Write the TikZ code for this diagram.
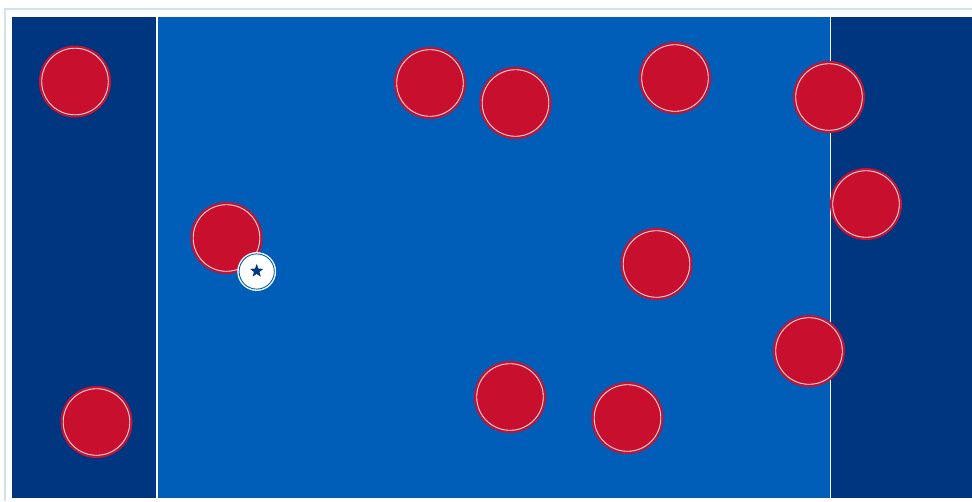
\documentclass[tikz,border=0pt]{standalone}
\usetikzlibrary{shapes.geometric}
\definecolor{frameline}{RGB}{212,225,240}
\definecolor{darkband}{RGB}{0,53,128}
\definecolor{court}{RGB}{0,94,184}
\definecolor{playerred}{RGB}{200,16,46}
\definecolor{playeredge}{RGB}{196,18,52}
\tikzset{
  player/.style={circle, inner sep=0pt, minimum size=70pt, fill=playerred, draw=playeredge, line width=2pt},
  ring/.style={draw=white, opacity=0.85, line width=0.9pt},
  ballnode/.style={circle, inner sep=0pt, minimum size=38pt, fill=white, draw=white, line width=0.8pt},
  ballring/.style={draw=court, line width=0.9pt},
  starmark/.style={star, star points=5, star point ratio=2.4, inner sep=0pt, minimum size=14pt, fill=darkband, draw=none},
  courtline/.style={draw=white, line width=1.6pt}
}
\begin{document}
\begin{tikzpicture}[x=1pt,y=-1pt]
\useasboundingbox (0,0) rectangle (972,501);
\fill[white] (0,0) rectangle (972,501);
% outer frame
\draw[frameline, line width=2pt] (5,501) -- (5,9) -- (972,9);
% field
\fill[darkband] (12,17) rectangle (972,498);
\fill[court] (157,17) rectangle (830.5,498);
\draw[courtline] (157,17) -- (157,498);
\draw[courtline, line width=1.4pt] (830.5,17) -- (830.5,498);
% players
\foreach \n/\x/\y in {p1/75/81.5, p2/430/83, p3/515.5/103, p4/675/78, p5/829/97,
                      p6/866/204, p7/226.5/238, p8/656.5/264, p9/809/351,
                      p10/510/397, p11/627.5/418, p12/96.5/422}{
  \node[player] (\n) at (\x,\y) {};
  \draw[ring] (\n.center) circle[radius=33.3pt];
}
% ball / marker
\node[ballnode] (ball) at (256.7,271.5) {};
\draw[ballring] (ball.center) circle[radius=17.6pt];
\node[starmark] (starm) at (256.7,271) {};
\end{tikzpicture}
\end{document}
